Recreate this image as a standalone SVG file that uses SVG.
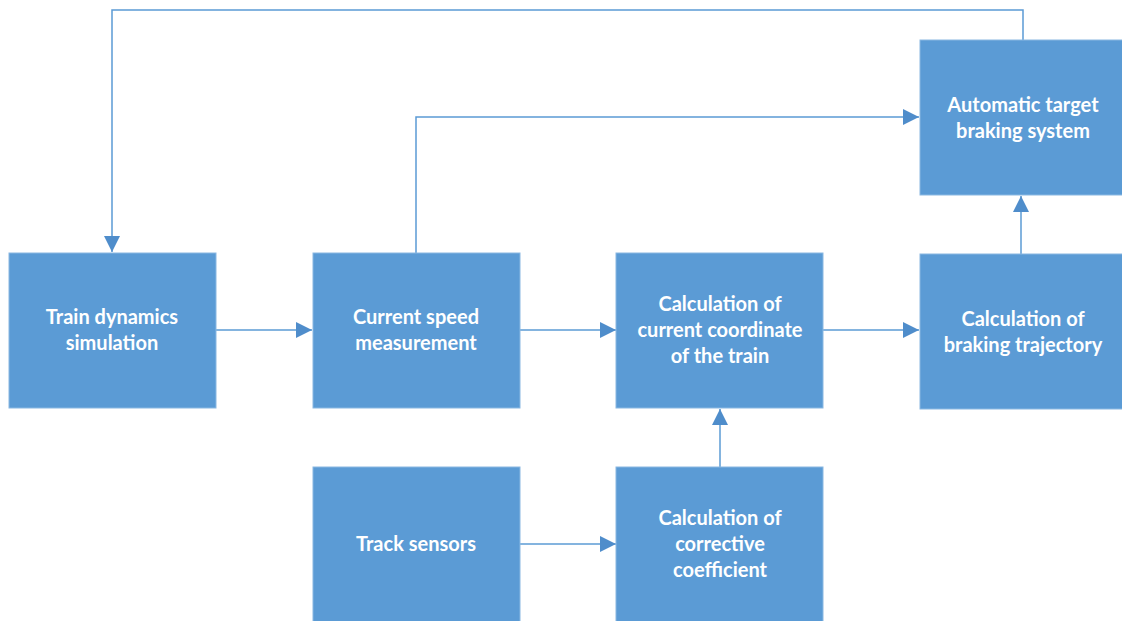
<svg xmlns="http://www.w3.org/2000/svg" width="1122" height="621" viewBox="0 0 1122 621">
<defs>
<style>
.box{fill:#5B9BD5;stroke:#8AB8E2;stroke-width:1}
.lbl{fill:#FFFFFF;font-family:Lato,"Open Sans",sans-serif;font-weight:bold;font-size:20px;text-anchor:middle}
.ln{fill:none;stroke:#5B9BD5;stroke-width:1.5}
</style>
<marker id="ah" viewBox="0 0 10 10" refX="10" refY="5" markerWidth="16" markerHeight="16" markerUnits="userSpaceOnUse" orient="auto">
<path d="M0,0 L10,5 L0,10 Z" fill="#4F8DCB"/>
</marker>
</defs>
<rect width="1122" height="621" fill="#FFFFFF"/>
<g id="connectors">
<path class="ln" d="M1023,40 V10 H112 V252" marker-end="url(#ah)"/>
<path class="ln" d="M416,253 V117 H919" marker-end="url(#ah)"/>
<path class="ln" d="M216,330 H312" marker-end="url(#ah)"/>
<path class="ln" d="M520,330 H616" marker-end="url(#ah)"/>
<path class="ln" d="M823,330 H919" marker-end="url(#ah)"/>
<path class="ln" d="M1021,254 V196" marker-end="url(#ah)"/>
<path class="ln" d="M720,467 V409" marker-end="url(#ah)"/>
<path class="ln" d="M520,544 H616" marker-end="url(#ah)"/>
</g>
<g id="auto">
<rect class="box" x="920" y="40" width="210" height="155"/>
<text class="lbl" x="1023" y="112">Automatic target</text>
<text class="lbl" x="1023" y="138">braking system</text>
</g>
<g id="train">
<rect class="box" x="9" y="253" width="207" height="155"/>
<text class="lbl" x="112" y="324">Train dynamics</text>
<text class="lbl" x="112" y="350">simulation</text>
</g>
<g id="speed">
<rect class="box" x="313" y="253" width="207" height="155"/>
<text class="lbl" x="416" y="324">Current speed</text>
<text class="lbl" x="416" y="350">measurement</text>
</g>
<g id="coord">
<rect class="box" x="616" y="253" width="207" height="155"/>
<text class="lbl" x="720" y="311">Calculation of</text>
<text class="lbl" x="720" y="337">current coordinate</text>
<text class="lbl" x="720" y="363">of the train</text>
</g>
<g id="trajectory">
<rect class="box" x="920" y="254" width="210" height="155"/>
<text class="lbl" x="1023" y="326">Calculation of</text>
<text class="lbl" x="1023" y="352">braking trajectory</text>
</g>
<g id="sensors">
<rect class="box" x="313" y="467" width="207" height="160"/>
<text class="lbl" x="416" y="551">Track sensors</text>
</g>
<g id="corrective">
<rect class="box" x="616" y="467" width="207" height="160"/>
<text class="lbl" x="720" y="525">Calculation of</text>
<text class="lbl" x="720" y="551">corrective</text>
<text class="lbl" x="720" y="577">coefficient</text>
</g>
</svg>
